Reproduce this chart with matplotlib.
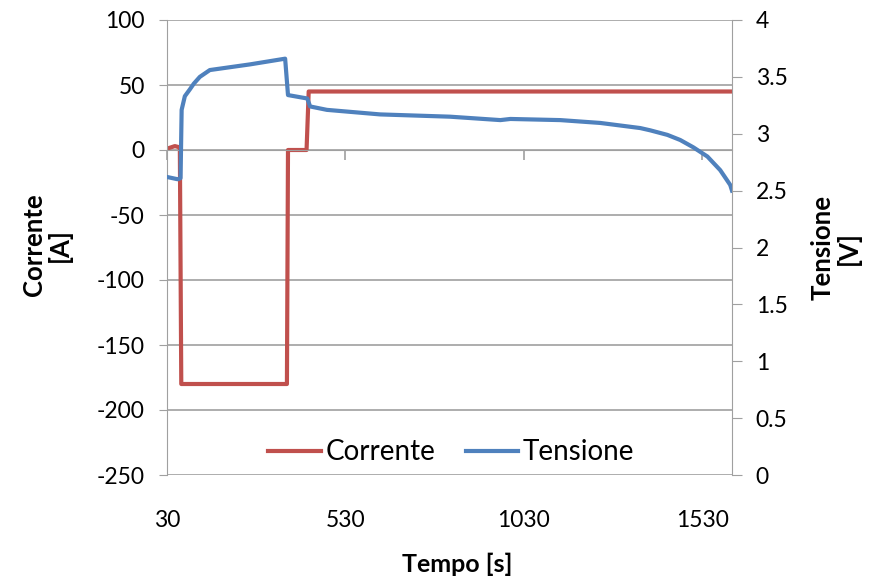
import numpy as np
import matplotlib.pyplot as plt

plt.rcParams['font.family'] = ['Lato', 'DejaVu Sans']
plt.rcParams['axes.unicode_minus'] = False

# dati
t_corrente = [30, 52, 66, 70, 366, 369, 421, 427, 1613]
corrente = [1, 3, 2, -180, -180, 0, 0, 45, 45]

t_tensione = [30, 60, 68, 71, 80, 94, 105, 122, 150, 263, 361, 369, 423, 431,
              478, 627, 823, 964, 992, 1132, 1244, 1356, 1384, 1432, 1468,
              1505, 1544, 1580, 1608, 1613]
tensione = [2.62, 2.60, 2.61, 3.21, 3.33, 3.39, 3.44, 3.50, 3.56, 3.61, 3.66,
            3.34, 3.31, 3.24, 3.21, 3.17, 3.15, 3.12, 3.13, 3.12, 3.095,
            3.05, 3.03, 2.99, 2.945, 2.88, 2.80, 2.68, 2.55, 2.50]

x_ticks = [30, 530, 1030, 1530]
y_ticks_a = np.arange(-250, 101, 50)
y_ticks_v = np.arange(0, 4.01, 0.5)

rosso = '#C0504D'
blu = '#4F81BD'
grigio = '#A0A0A0'

fig = plt.figure(figsize=(8.73, 5.80), dpi=100)
ax = fig.add_axes([167/873, 1 - 475/580, (732 - 167)/873, (475 - 20)/580])

l1, = ax.plot(t_corrente, corrente, color=rosso, lw=3, label='Corrente')
ax.set_xlim(30, 1613)
ax.set_ylim(-250, 100)
ax.set_yticks(y_ticks_a)
ax.grid(axis='y', color=grigio, lw=1.2)
ax.set_axisbelow(True)
ax.tick_params(axis='y', length=6, color=grigio, labelsize=16.5, pad=10)

# asse x che passa per lo zero, etichette in basso
ax.spines['bottom'].set_position(('data', 0))
ax.spines['bottom'].set_color(grigio)
ax.spines['left'].set_color(grigio)
ax.spines['top'].set_visible(False)
ax.spines['right'].set_visible(False)
ax.set_xticks(x_ticks)
ax.tick_params(axis='x', labelbottom=False, length=7, color=grigio, width=1.2)

sec = ax.secondary_xaxis('bottom')
sec.set_xticks(x_ticks)
sec.tick_params(length=0, pad=25, labelsize=16.5)
sec.spines['bottom'].set_visible(False)

ax2 = ax.twinx()
l2, = ax2.plot(t_tensione, tensione, color=blu, lw=3, label='Tensione')
ax2.set_ylim(0, 4)
ax2.set_yticks(y_ticks_v)
ax2.set_yticklabels([f'{v:g}' for v in y_ticks_v])
ax2.tick_params(axis='y', length=7, color=grigio, labelsize=16.5, pad=10)
for s in ['top', 'bottom', 'left']:
    ax2.spines[s].set_visible(False)
ax2.spines['right'].set_color(grigio)

ax2.legend(handles=[l1, l2], loc='center', bbox_to_anchor=(0.503, 0.05),
           ncol=2, frameon=False, fontsize=20, handlelength=1.9,
           handletextpad=0.15, columnspacing=1.1)

fig.text(47/873, 1 - 245/580, 'Corrente\n[A]', rotation=90, ha='center',
         va='center', fontsize=18.5, fontweight='bold', linespacing=1.05)
fig.text(836/873, 1 - 248/580, 'Tensione\n[V]', rotation=90, ha='center',
         va='center', fontsize=18.5, fontweight='bold', linespacing=1.05)
fig.text(457/873, 1 - 564/580, 'Tempo [s]', ha='center', va='center',
         fontsize=18, fontweight='bold')

fig.savefig('out.png', dpi=100)
